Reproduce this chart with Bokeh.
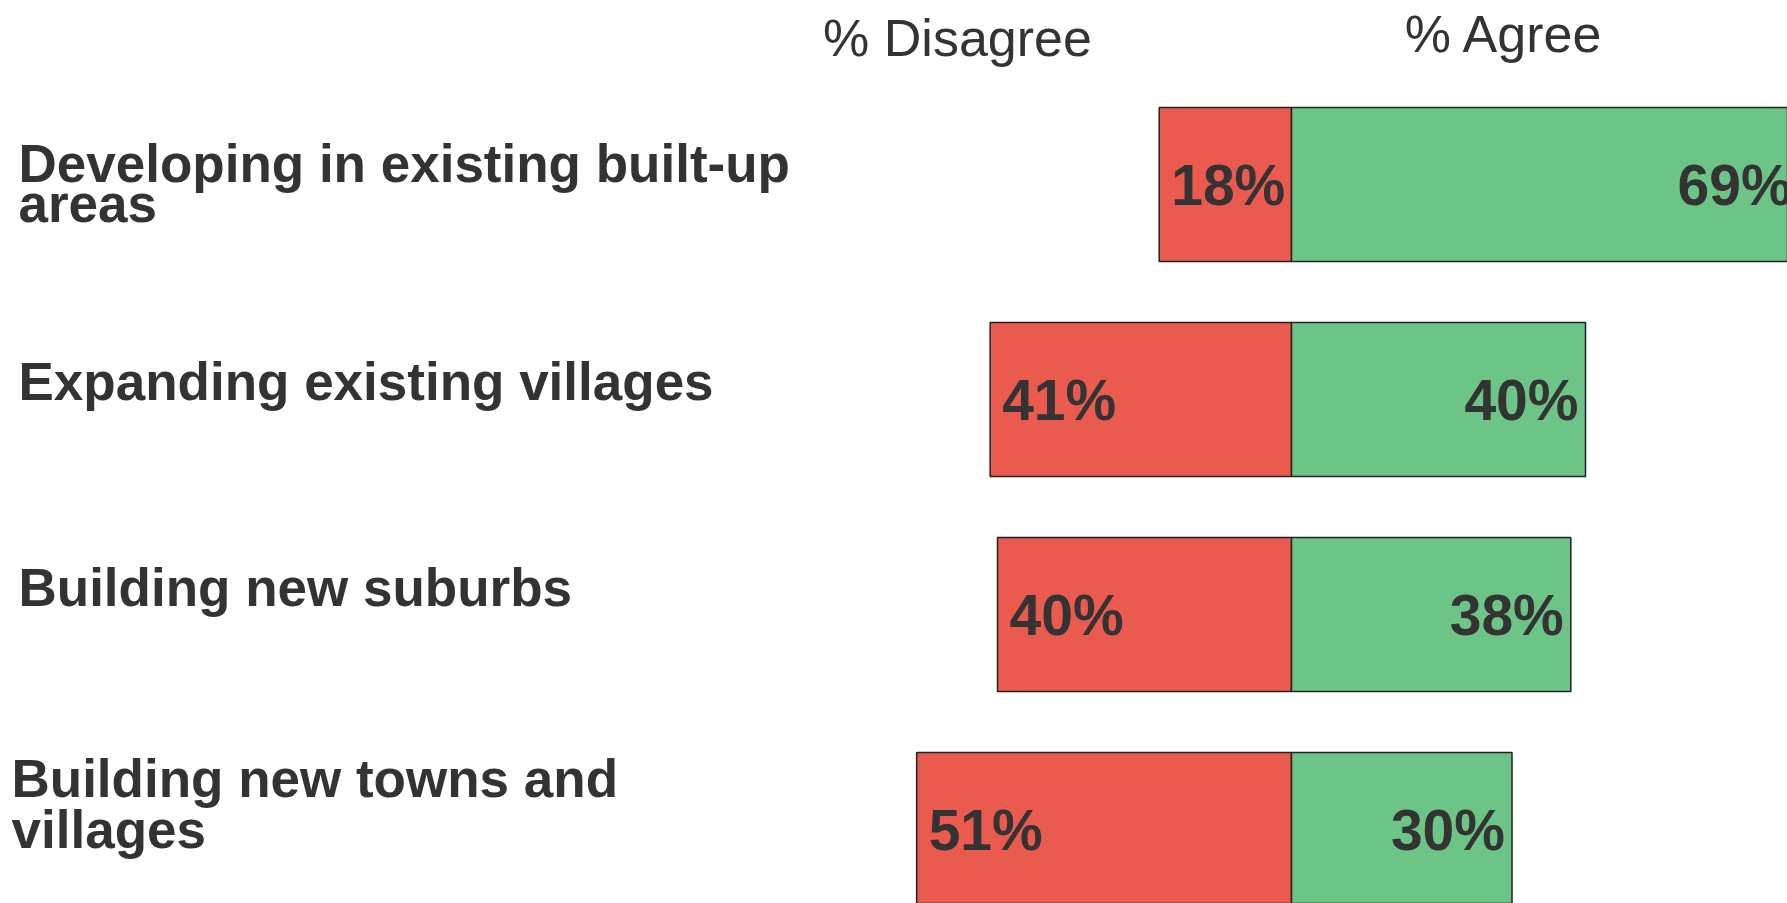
from bokeh.plotting import figure
from bokeh.models import Range1d, ColumnDataSource
from bokeh.core.properties import value
from bokeh.embed import file_html
from bokeh.resources import INLINE

# ---- data ----
categories = [
    "Developing in existing built-up areas",
    "Expanding existing villages",
    "Building new suburbs",
    "Building new towns and villages",
]
label_lines = [
    ["Developing in existing built-up", "areas"],
    ["Expanding existing villages"],
    ["Building new suburbs"],
    ["Building new towns and", "villages"],
]
disagree = [18, 41, 40, 51]
agree = [69, 40, 38, 30]
headers = ["% Disagree", "% Agree"]

# ---- layout / style ----
W, H = 1787, 903
PX_PER = 7.35          # pixels per percentage point
ZERO_PX = 1291         # px of the 0 line
FIRST_PX = 184         # px of first bar centre
PITCH = 215.0          # px between bar centres
BAR_H = 154.0 / PITCH

x_start = -ZERO_PX / PX_PER
x_end = (W - ZERO_PX) / PX_PER
y_top = -FIRST_PX / PITCH
y_bottom = (H - FIRST_PX) / PITCH

RED = "#EB5A4F"
GREEN = "#6CC587"
TXT = "#333333"
FONT = "Liberation Sans"

p = figure(width=W, height=H, x_range=Range1d(x_start, x_end),
           y_range=Range1d(y_bottom, y_top), output_backend="svg",
           toolbar_location=None, min_border=0)
p.axis.visible = False
p.grid.visible = False
p.outline_line_color = None
p.background_fill_color = "white"
p.border_fill_color = "white"

idx = list(range(len(categories)))
src = ColumnDataSource(dict(
    y=idx,
    dis_left=[-d for d in disagree],
    agree=agree,
    dis_txt=[f"{d}%" for d in disagree],
    agr_txt=[f"{a}%" for a in agree],
    zero=[0] * len(idx),
))

p.hbar(y="y", left="dis_left", right="zero", height=BAR_H, source=src,
       fill_color=RED, line_color="#222222", line_width=1.5)
p.hbar(y="y", left="zero", right="agree", height=BAR_H, source=src,
       fill_color=GREEN, line_color="#222222", line_width=1.5)

p.text(x="dis_left", y="y", text="dis_txt", source=src, x_offset=12,
       text_align="left", text_baseline="middle", text_color=TXT,
       text_font=value(FONT), text_font_style="bold", text_font_size="57px")
p.text(x="agree", y="y", text="agr_txt", source=src, x_offset=-7,
       text_align="right", text_baseline="middle", text_color=TXT,
       text_font=value(FONT), text_font_style="bold", text_font_size="57px")

# category labels (left)
label_indent = [18, 18, 18, 11]
label_shift = [-21, -18, -27, -51]
label_gap = [40, 0, 0, 51]
lx, ly, lt, lxo, lyo = [], [], [], [], []
for i, lines in enumerate(label_lines):
    for j, t in enumerate(lines):
        lx.append(x_start)
        ly.append(i)
        lt.append(t)
        lxo.append(label_indent[i])
        lyo.append(label_shift[i] + j * label_gap[i])
lsrc = ColumnDataSource(dict(x=lx, y=ly, text=lt, xo=lxo, yo=lyo))
p.text(x="x", y="y", text="text", x_offset="xo", y_offset="yo", source=lsrc,
       text_align="left", text_baseline="middle", text_color=TXT,
       text_font=value(FONT), text_font_style="bold", text_font_size="53px")

# headers
hsrc = ColumnDataSource(dict(x=[x_start, x_start], y=[y_top, y_top], text=headers,
                             xo=[957, 1504], yo=[37, 33]))
p.text(x="x", y="y", text="text", x_offset="xo", y_offset="yo", source=hsrc,
       text_align="center", text_baseline="middle", text_color=TXT,
       text_font=value(FONT), text_font_size="52px")

open("out.html", "w").write(file_html(p, INLINE))
